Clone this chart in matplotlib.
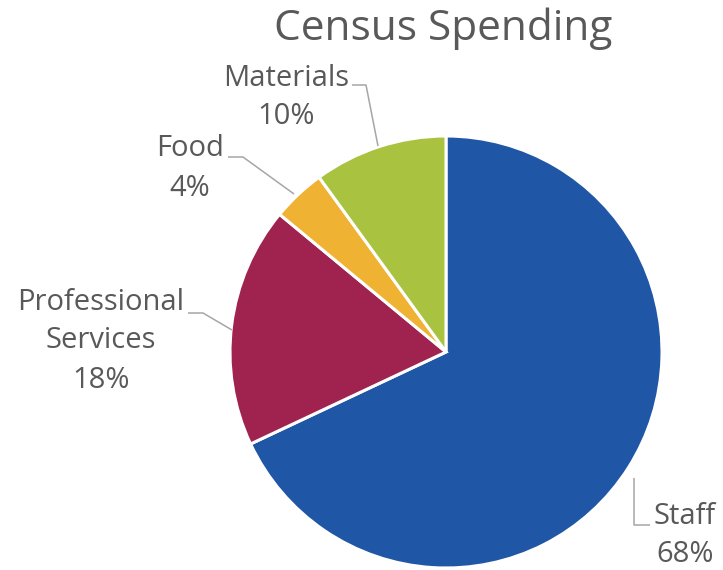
import matplotlib.pyplot as plt

plt.rcParams["font.family"] = ["Open Sans", "DejaVu Sans"]

categories = ["Staff", "Professional\nServices", "Food", "Materials"]
shares = [68, 18, 4, 10]
colors = ["#1F56A6", "#A0224E", "#F0B232", "#A9C23F"]

TEXT = "#595959"
LEADER = "#A6A6A6"

W, H = 723, 570
fig = plt.figure(figsize=(W / 100, H / 100), dpi=100)
ax = fig.add_axes([0, 0, 1, 1])

# pie laid out in pixel units, y measured from the bottom
cx, cy, r = 446, H - 352, 216
ax.pie(shares, colors=colors, startangle=90, counterclock=False,
       center=(cx, cy), radius=r, frame=True,
       wedgeprops=dict(edgecolor="white", linewidth=2.2))
ax.set_xlim(0, W)
ax.set_ylim(0, H)
ax.set_aspect("equal")
ax.axis("off")

# label centre of first line and leader path, in pixels from top
label_pos = [(685, 516), (101, 302), (190, 149), (286, 78)]
leaders = [
    [(634, 478), (634, 525), (650, 525)],
    [(188, 313), (203, 313), (232, 330)],
    [(228, 157), (243, 157), (294, 194)],
    [(352, 85), (366, 85), (378, 146)],
]
LINE_STEP = 39

for name, val, (lx, ly), path in zip(categories, shares, label_pos, leaders):
    lines = name.split("\n") + [f"{val}%"]
    for i, line in enumerate(lines):
        ax.text(lx, H - (ly + i * LINE_STEP), line, ha="center",
                va="center", fontsize=21, color=TEXT)
    xs = [p[0] for p in path]
    ys = [H - p[1] for p in path]
    ax.plot(xs, ys, color=LEADER, lw=1.1, solid_capstyle="butt")

ax.text(443, H - 29, "Census Spending", ha="center", va="center",
        fontsize=30.5, color=TEXT)

fig.savefig("out.png", dpi=100)
